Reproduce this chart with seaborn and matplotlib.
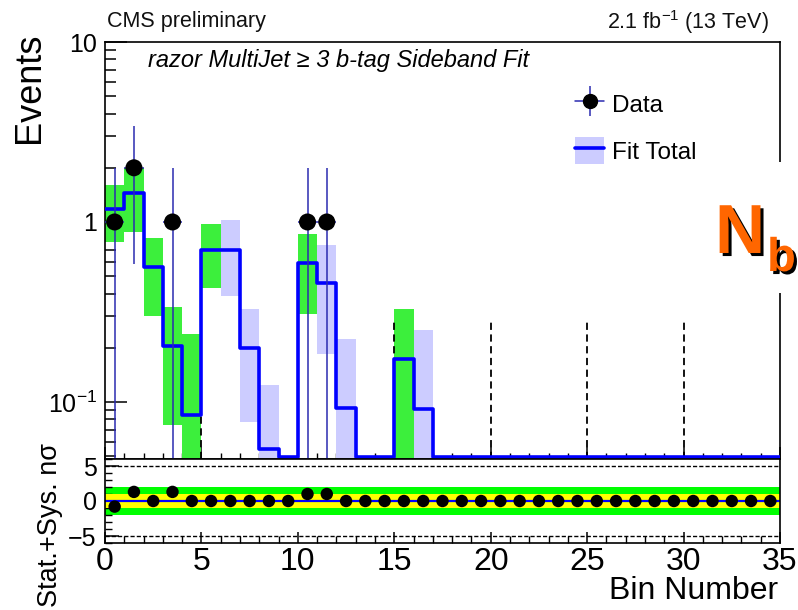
import numpy as np
import pandas as pd
import matplotlib
matplotlib.use("Agg")
import matplotlib.pyplot as plt
import seaborn as sns
import matplotlib.patheffects as pe
from matplotlib.patches import Rectangle, Patch
from matplotlib.lines import Line2D
from matplotlib.legend_handler import HandlerTuple
from matplotlib.ticker import FixedLocator, FixedFormatter, NullFormatter, MultipleLocator

# ---------------- data ----------------
bin_edges = list(range(0, 36))
fit_total = [1.18, 1.45, 0.56, 0.205, 0.085, 0.70, 0.70, 0.20, 0.055, 0.0,
             0.59, 0.46, 0.093, 0.0, 0.0, 0.174, 0.091] + [0.0] * 18
band_hi = [1.61, 2.0, 0.81, 0.337, 0.24, 0.97, 1.03, 0.33, 0.124, np.nan,
           0.86, 0.745, 0.224, np.nan, np.nan, 0.33, 0.25] + [np.nan] * 18
band_lo = [0.77, 0.88, 0.30, 0.074, 0.0, 0.43, 0.39, 0.077, 0.0, np.nan,
           0.31, 0.185, 0.0, np.nan, np.nan, 0.0, 0.0] + [np.nan] * 18
band_kind = ["g", "g", "g", "g", "g", "g", "b", "b", "b", "",
             "g", "b", "b", "", "", "g", "b"] + [""] * 18
data_counts = [1, 2, 0, 1, 0, 0, 0, 0, 0, 0, 1, 1] + [0] * 23
pulls = [-0.8, 1.3, 0.0, 1.3, 0.0, 0.0, 0.0, 0.0, 0.0, 0.0, 1.0, 1.0] + [0.0] * 23
divider_x = [5, 10, 15, 20, 25, 30]
divider_top = 0.285

# ---------------- style ----------------
sns.set_theme(style="ticks")
plt.rcParams["font.family"] = ["Liberation Sans", "DejaVu Sans"]
plt.rcParams["mathtext.default"] = "regular"
plt.rcParams["axes.unicode_minus"] = True
plt.rcParams["text.color"] = "black"
plt.rcParams["xtick.color"] = "black"
plt.rcParams["ytick.color"] = "black"
plt.rcParams["xtick.labelcolor"] = "black"
plt.rcParams["ytick.labelcolor"] = "black"

W, H = 798, 610
fig = plt.figure(figsize=(W / 100, H / 100), dpi=100)
fx = lambda p: p / W
fy = lambda p: 1 - p / H

ax1 = fig.add_axes([fx(105), fy(459), fx(780) - fx(105), fy(42) - fy(459)])
ax2 = fig.add_axes([fx(105), fy(543), fx(780) - fx(105), fy(459) - fy(543)])

YMIN, YMAX = 0.0482, 10
edges = np.array(bin_edges, dtype=float)
centers = edges[:-1] + 0.5
fit = np.array(fit_total)
hi = np.array(band_hi)
lo = np.array(band_lo)
green = "#3cef3c"
lav = "#ccccff"
blue = "#0000ff"
errc = "#2b2bb0"

# uncertainty bands
for i in range(len(fit)):
    if band_kind[i] == "":
        continue
    b = max(lo[i], YMIN)
    ax1.bar(edges[i], hi[i] - b, bottom=b, width=1.0, align="edge",
            color=green if band_kind[i] == "g" else lav, linewidth=0, zorder=1)

# dashed dividers
ax1.vlines(divider_x, YMIN, divider_top, colors="black", linestyles=(0, (4, 2.5)),
           linewidth=1.3, zorder=2)

# fit total step line
fit_draw = np.clip(fit, YMIN * 1.025, None)
step_df = pd.DataFrame({"x": edges, "y": np.append(fit_draw, fit_draw[-1])})
sns.lineplot(data=step_df, x="x", y="y", ax=ax1, drawstyle="steps-post",
             color=blue, linewidth=2.6, estimator=None, zorder=3)

# data points
dc = np.array(data_counts, dtype=float)
mask = dc > 0
err = np.sqrt(dc[mask])
lows = np.clip(dc[mask] - err, YMIN, None)
ax1.vlines(centers[mask], lows, dc[mask] + err, colors=errc, linewidth=1.1, zorder=4)
ax1.hlines(dc[mask], centers[mask] - 0.5, centers[mask] + 0.5, colors=errc,
           linewidth=1.1, zorder=4)
pts = pd.DataFrame({"x": centers[mask], "y": dc[mask]})
sns.scatterplot(data=pts, x="x", y="y", ax=ax1, color="black", s=150,
                edgecolor="none", zorder=5)

ax1.set_yscale("log")
ax1.set_xlim(0, 35)
ax1.set_ylim(YMIN, YMAX)
ax1.set_xlabel("")
ax1.set_ylabel("")
ax1.yaxis.set_major_locator(FixedLocator([0.1, 1, 10]))
ax1.yaxis.set_major_formatter(FixedFormatter([r"$10^{-1}$", "1", "10"]))
minor_y = [k * 10.0 ** e for e in (-2, -1, 0) for k in range(2, 10)]
ax1.yaxis.set_minor_locator(FixedLocator(minor_y))
ax1.yaxis.set_minor_formatter(NullFormatter())
ax1.xaxis.set_major_locator(MultipleLocator(5))
ax1.xaxis.set_minor_locator(MultipleLocator(1))
ax1.tick_params(axis="x", which="both", direction="in", labelbottom=False)
ax1.tick_params(axis="x", which="major", length=9, width=1.1, color="black")
ax1.tick_params(axis="x", which="minor", length=4, width=1.0, color="black")
ax1.tick_params(axis="y", which="major", direction="in", length=16, width=1.1,
                labelsize=18, pad=6, color="black")
ax1.tick_params(axis="y", which="minor", direction="in", length=8, width=1.1,
                color="black")
for s in ax1.spines.values():
    s.set_linewidth(1.2)
    s.set_color("black")
    s.set_visible(True)

# ---------------- pull panel ----------------
ax2.axhspan(-2, 2, color="#00ff00", linewidth=0, zorder=0)
ax2.axhspan(-1, 1, color="#ffff00", linewidth=0, zorder=1)
ax2.axhline(0, color=blue, linewidth=1.6, zorder=2)
ax2.axhline(5, color="black", linestyle=(0, (3, 1.5)), linewidth=1.0, zorder=2)
ax2.axhline(-5, color="black", linestyle=(0, (3, 1.5)), linewidth=1.0, zorder=2)
pull_df = pd.DataFrame({"x": centers, "y": pulls})
sns.scatterplot(data=pull_df, x="x", y="y", ax=ax2, color="black", s=80,
                edgecolor="none", zorder=3)
ax2.set_xlim(0, 35)
ax2.set_ylim(-6, 6)
ax2.set_xlabel("")
ax2.set_ylabel("")
ax2.xaxis.set_major_locator(MultipleLocator(5))
ax2.xaxis.set_minor_locator(MultipleLocator(1))
ax2.yaxis.set_major_locator(FixedLocator([-5, 0, 5]))
ax2.yaxis.set_minor_locator(MultipleLocator(1))
ax2.tick_params(axis="x", which="major", direction="in", length=8, width=1.1,
                labelsize=23, pad=3, color="black")
ax2.tick_params(axis="x", which="minor", direction="in", length=5, width=1.0,
                color="black")
ax2.tick_params(axis="y", which="major", direction="in", length=10, width=1.1,
                labelsize=18, pad=6, color="black")
ax2.tick_params(axis="y", which="minor", direction="in", length=5, width=1.0,
                color="black")
for s in ax2.spines.values():
    s.set_linewidth(1.2)
    s.set_color("black")
    s.set_visible(True)

# ---------------- legend ----------------
h_data = (Line2D([], [], color=errc, lw=1.1),
          Line2D([], [], marker="|", markersize=22, color=errc, linestyle="none", mew=1.1),
          Line2D([], [], marker="o", markersize=10, color="black", linestyle="none"))
h_fit = (Patch(facecolor=lav, edgecolor="none"), Line2D([], [], color=blue, lw=2.6))
fig.legend([h_data, h_fit], ["Data", "Fit Total"],
           handler_map={tuple: HandlerTuple(ndivide=1, pad=0)},
           loc="upper left", bbox_to_anchor=(fx(575), fy(90)), frameon=False,
           fontsize=17.5, handlelength=1.2, handleheight=1.35, handletextpad=0.33,
           labelspacing=0.82, borderpad=0, borderaxespad=0, labelcolor="black")

# ---------------- texts ----------------
fig.text(fx(107), fy(22), "CMS preliminary", fontsize=15.5, ha="left", va="center",
         color="#111111")
fig.text(fx(769), fy(22), r"2.1 fb$^{-1}$ (13 TeV)", fontsize=15.5, ha="right",
         va="center", color="#111111")
fig.text(fx(148), fy(61), "razor MultiJet \u2265 3 b-tag Sideband Fit", fontsize=17,
         style="italic", ha="left", va="center", color="black")
fig.text(fx(29), fy(33), "Events", fontsize=26, rotation=90, ha="center", va="top")
fig.text(fx(50), fy(607), "Stat.+Sys. n\u03c3", fontsize=19.5, rotation=90,
         ha="center", va="bottom")
fig.text(fx(778), fy(606), "Bin Number", fontsize=23, ha="right", va="bottom")

# ---------------- N_b overlay ----------------
fig.add_artist(Rectangle((fx(712), fy(293)), fx(798) - fx(712), fy(162) - fy(293),
                         transform=fig.transFigure, facecolor="white",
                         edgecolor="none", zorder=5))
orange = "#ff6600"
shadow = [pe.withSimplePatchShadow(offset=(2.2, -2.2), shadow_rgbFace="black", alpha=1.0)]
fig.text(fx(715), fy(253), "N", fontsize=50, fontweight="bold",
         color=orange, ha="left", va="baseline", zorder=6, path_effects=shadow)
fig.text(fx(767), fy(271), "b", fontsize=34, fontweight="bold",
         color=orange, ha="left", va="baseline", zorder=6, path_effects=shadow)

fig.savefig("out.png", dpi=100)
